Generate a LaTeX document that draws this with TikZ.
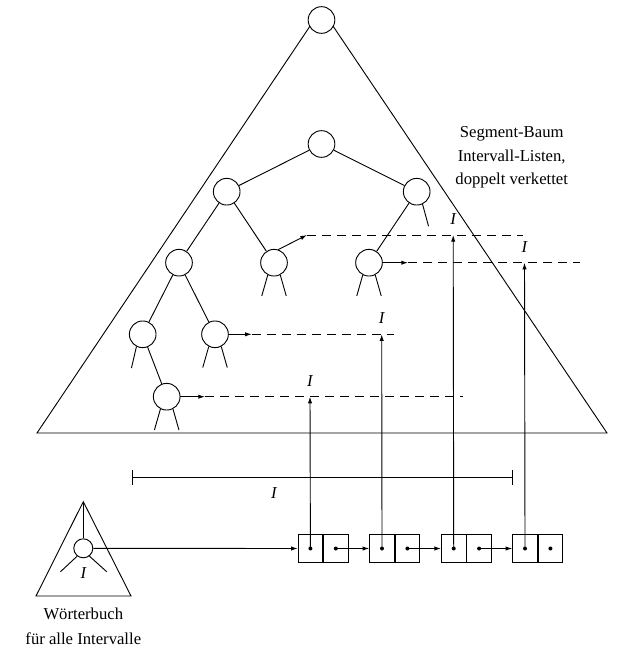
\documentclass[tikz,border=0pt]{standalone}
\usepackage{fontspec}
\setmainfont{Liberation Serif}
\usetikzlibrary{arrows.meta,positioning,calc}

\begin{document}
\begin{tikzpicture}[x=0.6pt,y=-0.6pt,line width=0.55pt,
    knot/.style={draw,circle,fill=white,minimum size=16pt,inner sep=0pt},
    dknot/.style={draw,circle,fill=white,minimum size=11.4pt,inner sep=0pt},
    cell/.style={draw,minimum width=14.7pt,minimum height=17pt,inner sep=0pt},
    liste/.style={dash pattern=on 5.5pt off 3.5pt},
    ptr/.style={-{Latex[length=4pt,width=2.6pt]}},
    lbl/.style={font=\itshape,inner sep=0pt}]
    \useasboundingbox (0,0) rectangle (640,657);

    % segment tree
    \coordinate (top) at (321.5,9);
    \coordinate (bl) at (37,433);
    \coordinate (br) at (607,433);
    \draw (bl) -- (top) -- (br) -- cycle;
    \node[knot] (wurzel) at (321.5,20) {};

    \node[knot] (a) at (321.5,144) {};
    \node[knot] (b) at (226.7,191.7) {};
    \node[knot] (c) at (416.7,191.7) {};
    \node[knot] (d) at (179,262.7) {};
    \node[knot] (e) at (274,262.7) {};
    \node[knot] (f) at (369,262.7) {};
    \node[knot] (g) at (142.7,334.3) {};
    \node[knot] (h) at (215,334.3) {};
    \node[knot] (k) at (166.7,396.7) {};
    \draw (a) -- (b) (a) -- (c) (b) -- (d) (b) -- (e)
          (c) -- (f) (d) -- (g) (d) -- (h) (g) -- (k);
    \foreach \n in {e,f,h,k} {
        \draw (\n.-117) -- ++(-6,21);
        \draw (\n.-63) -- ++(6,21);
    }
    \draw (g.-117) -- ++(-5,21.5);
    \draw (c.-65) -- ++(6,22);

    \node[align=center,font=\fontsize{10}{14.2}\selectfont] (titel) at (511.7,157.5)
        {Segment-Baum\\Intervall-Listen,\\doppelt verkettet};

    % intervall lists
    \coordinate (e1) at (307,235);   \coordinate (e2) at (523,235);
    \coordinate (f1) at (408,262.7); \coordinate (f2) at (580,262.7);
    \coordinate (h1) at (251.7,334.3); \coordinate (h2) at (394,334.3);
    \coordinate (k1) at (205,396.7); \coordinate (k2) at (463,396.7);
    \draw[ptr] (e.72) -- (e1);
    \draw[ptr] (f.east) -- (f1);
    \draw[ptr] (h.east) -- (h1);
    \draw[ptr] (k.east) -- (k1);
    \foreach \n in {e,f,h,k}
        \draw[liste] (\n1) -- (\n2);

    % interval
    \coordinate (ia) at (131.7,477.3);
    \coordinate (ib) at (512.7,477.3);
    \draw[{Bar[width=9pt]}-{Bar[width=9pt]}] (ia) -- (ib);
    \node[lbl] (li) at (274,492.7) {I};

    % doubly linked list
    \foreach \i/\x in {1/297.7,2/369.3,3/441,4/512.3} {
        \node[cell,anchor=west] (p\i) at (\x,548.5) {};
        \node[cell,right=0pt of p\i] (q\i) {};
        \fill (p\i) circle (1.2pt);
        \fill (q\i) circle (1.2pt);
    }
    \draw[ptr] (q1.center) -- (p2.west);
    \draw[ptr] (q2.center) -- (p3.west);
    \draw[ptr] (q3.center) -- (p4.west);

    \coordinate (t1) at (310,396.7);
    \coordinate (t2) at (381.7,334.3);
    \coordinate (t3) at (453.2,235);
    \coordinate (t4) at (524.5,262.7);
    \foreach \i in {1,...,4} {
        \draw[ptr] (p\i.center) -- (t\i);
        \node[lbl,above=6pt of t\i] (l\i) {I};
    }

    % dictionary
    \coordinate (wtop) at (83.3,501.7);
    \coordinate (wl) at (36,596);
    \coordinate (wr) at (131,596);
    \draw (wl) -- (wtop) -- (wr) -- cycle;
    \node[dknot] (w) at (83.3,548.3) {};
    \draw (wtop) -- (w);
    \draw (w.-128) -- ++(-16.7,15.6);
    \draw (w.-52) -- ++(17.3,15.6);
    \node[lbl] (wi) at (83.3,573.3) {I};
    \draw[ptr] (w) -- (p1.west);
    \node (wb1) at (83.3,614) {Wörterbuch};
    \node (wb2) at (83.3,638.5) {für alle Intervalle};
\end{tikzpicture}
\end{document}
